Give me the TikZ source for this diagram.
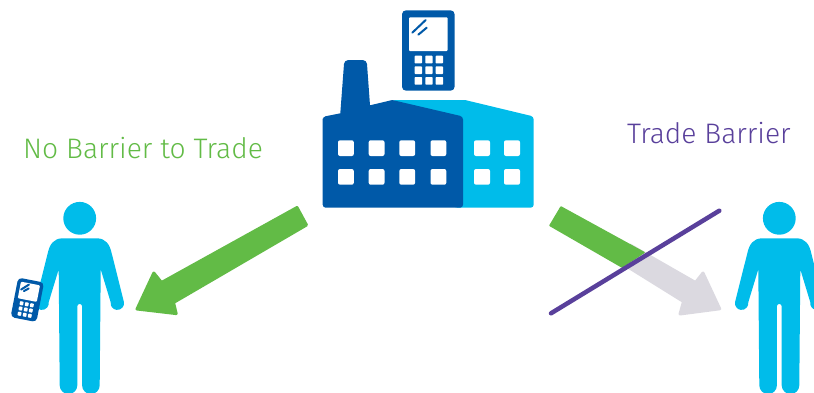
\documentclass[tikz,border=0pt]{standalone}
\usepackage{fontspec}
\setmainfont{Fira Sans Light}
\definecolor{cgreen}{HTML}{62BB46}
\definecolor{cpurple}{HTML}{59409B}
\definecolor{cgrey}{HTML}{DBD9E0}
\definecolor{ccyan}{HTML}{00BCEA}
\definecolor{cblue}{HTML}{0059A8}
\tikzset{
  blob/.style={line join=round,line width=3pt},
  win/.style={fill=white,rounded corners=2pt},
  label/.style={inner sep=0pt,anchor=base west,font=\fontsize{28.2}{32}\selectfont},
  person/.pic={
    \fill[ccyan] (0,0) circle (16.4);
    \fill[ccyan] (-17,20) .. controls (-26,20) and (-30,26) .. (-32,35)
      -- (-44.3,84) arc (188:-8:6.7) -- (-21,51)
      -- (-20,167) arc (180:0:8.8) -- (-2.4,88) arc (180:360:2.4) -- (2.4,167) arc (180:0:8.8)
      -- (21,51) -- (31,84) arc (188:-8:6.7) -- (32,35)
      .. controls (30,26) and (26,20) .. (17,20) -- cycle;
  },
  phone/.pic={
    \fill[cblue,rounded corners=4pt] (-26.3,-40.2) rectangle (26.3,40.2);
    \fill[white,rounded corners=1pt] (-19.3,-33.2) rectangle (19.4,0.5);
    \draw[cblue,line width=2pt,line cap=round] (-16,-17.8) -- (-2.6,-30.5) (-10,-15.8) -- (-1.6,-22.8);
    \foreach \kx in {-13.6,-3,7.4} \foreach \ky in {5.2,15.8,26.5}
      \fill[white,rounded corners=0.7pt] (\kx,\ky) rectangle ++(7.3,7.7);
  }
}
\begin{document}
\begin{tikzpicture}[x=1pt,y=-1pt]
\useasboundingbox (0,0) rectangle (814,392);
\clip (0,0) rectangle (814,392);
% factory
\fill[ccyan,rounded corners=3pt] (392.3,100) [sharp corners] -- (465,100) [rounded corners=3pt] -- (533.7,116.5) -- (533.7,207.7) -- (455,207.7) -- (392.3,150) -- cycle;
\fill[cblue] (322.7,121) [rounded corners=3pt] -- (322.7,116.8) [sharp corners] -- (340.3,113.3) [rounded corners=4pt] -- (344.3,60) -- (366.7,60) [sharp corners] -- (370,105.3) -- (392.3,100) [rounded corners=3pt] -- (463,116.5) -- (463,207.7) -- (322.7,207.7) -- cycle;
\foreach \wx in {338,368.7,399.3,430.5} \foreach \wy in {140.3,169}
  \fill[win] (\wx,\wy) rectangle ++(15.8,15.7);
\foreach \wx in {474,504} \foreach \wy in {140.3,169}
  \fill[win] (\wx,\wy) rectangle ++(16,15.7);
\pic at (428.3,50.5) {phone};
% text
\node[label,text=cgreen] (nobarrier) at (23,158.5) {No Barrier to Trade};
\node[label,text=cpurple] (barrier) at (627,143.5) {Trade Barrier};
% people
\pic at (79.7,218.3) {person};
\pic at (779.3,218.3) {person};
\pic[rotate=-11,scale=0.5,transform shape] at (27.3,299.8) {phone};
% left arrow
\fill[cgreen,draw=cgreen,blob] (137,309) -- (153.8,273) -- (161.5,282.5) -- (297,207.5) -- (306.5,225) -- (173.5,302.5) -- (176.2,313.6) -- cycle;
% right arrow
\fill[cgrey,draw=cgrey,blob] (719.7,308.8) -- (703,273) -- (695.5,282.5) -- (630,245) -- (620,262) -- (683.5,301.5) -- (680,314) -- cycle;
\fill[cgreen,draw=cgreen,line join=round,line width=1.5pt] (561,207) -- (644,252.5) -- (622,267) -- (550,225.5) -- cycle;
\draw[cpurple,line width=4.5pt,line cap=round] (551,313.3) -- (719.3,210.7);
\end{tikzpicture}
\end{document}
